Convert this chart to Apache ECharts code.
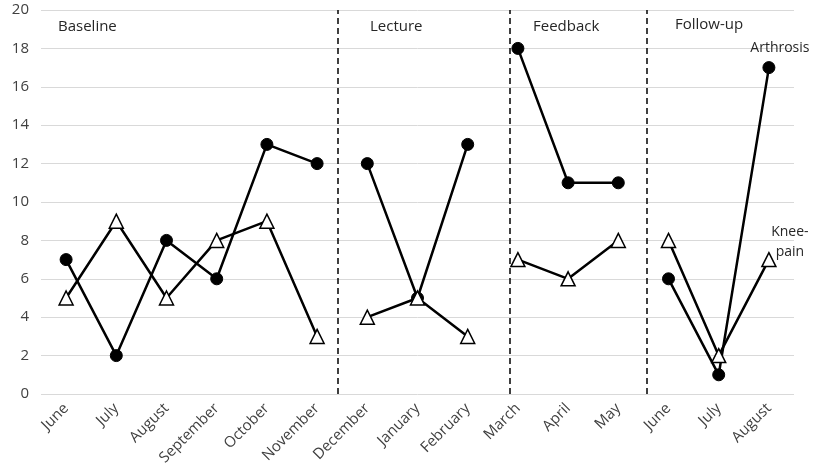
<!DOCTYPE html>
<html>
<head>
<meta charset="utf-8">
<script src="https://cdn.jsdelivr.net/npm/echarts@6/dist/echarts.min.js"></script>
<style>html,body{margin:0;padding:0;background:#fff}#c{width:813px;height:473px}</style>
</head>
<body>
<div id="c"></div>
<script>
const categories = ['June','July','August','September','October','November','December','January','February','March','April','May','June','July','August'];
const arthrosis = [7, 2, 8, 6, 13, 12, 12, 5, 13, 18, 11, 11, 6, 1, 17];
const kneePain = [5, 9, 5, 8, 9, 3, 4, 5, 3, 7, 6, 8, 8, 2, 7];
const phaseNames = ['Baseline', 'Lecture', 'Feedback', 'Follow-up'];
const phaseStarts = [0, 6, 9, 12];
const phaseEnds = [5, 8, 11, 14];
const dividers = [5.42, 8.84, 11.57];
const yTicks = [0, 2, 4, 6, 8, 10, 12, 14, 16, 18, 20];

const FONT = '"Open Sans", "Noto Sans", sans-serif';
const chart = echarts.init(document.getElementById('c'));

function segData(values, s, e) {
  return values.map((v, i) => (i >= s && i <= e ? v : null));
}

const series = [];
phaseNames.forEach((p, k) => {
  const s = phaseStarts[k], e = phaseEnds[k];
  const last = k === phaseNames.length - 1;
  const aData = segData(arthrosis, s, e);
  const kData = segData(kneePain, s, e);
  if (last) {
    aData[e] = { value: arthrosis[e], label: { show: true, formatter: 'Arthrosis', position: 'top', distance: 6, offset: [11, 0], color: '#262626', fontSize: 14, fontFamily: FONT } };
    kData[e] = { value: kneePain[e], label: { show: true, formatter: 'Knee-\npain', position: 'top', distance: 0, offset: [21, 10], color: '#262626', fontSize: 14, lineHeight: 20, align: 'center', fontFamily: FONT } };
  }
  series.push({
    name: 'Arthrosis', type: 'line', data: aData, connectNulls: false,
    symbol: 'circle', symbolSize: 12, showAllSymbol: true,
    itemStyle: { color: '#000', borderColor: '#000' },
    lineStyle: { color: '#000', width: 2.5 }, z: 3, animation: false
  });
  series.push({
    name: 'Knee-pain', type: 'line', data: kData, connectNulls: false,
    symbol: 'triangle', symbolSize: 14, showAllSymbol: true,
    itemStyle: { color: '#fff', borderColor: '#000', borderWidth: 1.5 },
    lineStyle: { color: '#000', width: 2.5 }, z: 4, animation: false
  });
});

series.push({
  type: 'line', xAxisIndex: 1, data: [], silent: true, animation: false,
  markLine: {
    symbol: 'none', silent: true, label: { show: false },
    lineStyle: { color: '#000', type: [6, 4], width: 1.5 },
    data: dividers.map(d => ({ xAxis: d }))
  }
});

chart.setOption({
  animation: false,
  grid: { left: 41, right: 19, top: 10, bottom: 79, containLabel: false },
  xAxis: [{
    type: 'category', data: categories, boundaryGap: true,
    axisLine: { show: false }, axisTick: { show: false },
    axisLabel: { rotate: 45, interval: 0, color: '#404040', fontSize: 15, fontFamily: FONT, margin: 12 }
  }, {
    type: 'value', min: -0.5, max: 14.5, show: false
  }],
  yAxis: {
    type: 'value', min: 0, max: 20, interval: 2,
    axisLine: { show: false }, axisTick: { show: false },
    axisLabel: { color: '#404040', fontSize: 15, fontFamily: FONT, margin: 12 },
    splitLine: { lineStyle: { color: '#d9d9d9', width: 1 } }
  },
  graphic: [
    { type: 'text', left: 58, top: 19, style: { text: phaseNames[0], fill: '#262626', font: '15px ' + FONT } },
    { type: 'text', left: 370, top: 19, style: { text: phaseNames[1], fill: '#262626', font: '15px ' + FONT } },
    { type: 'text', left: 533, top: 19, style: { text: phaseNames[2], fill: '#262626', font: '15px ' + FONT } },
    { type: 'text', left: 675, top: 17, style: { text: phaseNames[3], fill: '#262626', font: '15px ' + FONT } }
  ],
  series: series
});
</script>
</body>
</html>
